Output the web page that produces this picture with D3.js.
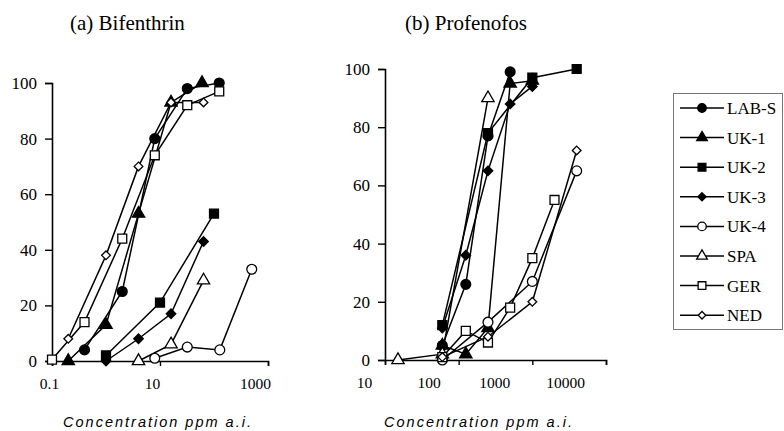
<!DOCTYPE html>
<html><head><meta charset="utf-8">
<script src="https://cdn.jsdelivr.net/npm/d3@7"></script>
<style>body{margin:0;background:#fff}</style>
</head><body>
<svg id="c" width="784" height="431"></svg>
<script>
// ---------- data ----------
const seriesNames = ["LAB-S","UK-1","UK-2","UK-3","UK-4","SPA","GER","NED"];
const panelTitles = ["(a) Bifenthrin","(b) Profenofos"];
const axisTitle = "Concentration ppm a.i.";
const yTicks = [0,20,40,60,80,100];
const xTicksA = [0.1,10,1000];
const xTicksB = [10,100,1000,10000];

// (a) Bifenthrin: [concentration, % mortality]
const bifLABS = [[0.4,4],[2,25],[8,80],[32,98],[125,100]];
const bifUK1  = [[0.2,0],[1,13],[4,53],[16,93],[60,100]];
const bifUK2  = [[1,2],[10,21],[100,53]];
const bifUK3  = [[1,0],[4,8],[16,17],[64,43]];
const bifUK4  = [[8,1],[32,5],[128,4],[500,33]];
const bifSPA  = [[4,0],[16,6],[64,29]];
const bifGER  = [[0.1,0.5],[0.4,14],[2,44],[8,74],[32,92],[125,97]];
const bifNED  = [[0.2,8],[1,38],[4,70],[16,93],[64,93]];

// (b) Profenofos
const proLABS = [[60,5],[125,26],[250,77],[500,99]];
const proUK1  = [[60,5],[125,2],[250,11],[500,95],[1000,96]];
const proUK2  = [[60,12],[250,78],[1000,97],[4000,100]];
const proUK3  = [[60,11],[125,36],[250,65],[500,88],[1000,94]];
const proUK4  = [[60,0],[250,13],[1000,27],[4000,65]];
const proSPA  = [[15,0],[60,2],[250,90]];
const proGER  = [[60,1],[125,10],[250,6],[500,18],[1000,35],[2000,55]];
const proNED  = [[60,1],[250,8],[1000,20],[4000,72]];

const dataA = [bifLABS,bifUK1,bifUK2,bifUK3,bifUK4,bifSPA,bifGER,bifNED];
const dataB = [proLABS,proUK1,proUK2,proUK3,proUK4,proSPA,proGER,proNED];

// ---------- styles ----------
const shapes = [d3.symbolCircle,d3.symbolTriangle,d3.symbolSquare,d3.symbolDiamond2,
                d3.symbolCircle,d3.symbolTriangle,d3.symbolSquare,d3.symbolDiamond2];
const filled = [true,true,true,true,false,false,false,false];
const sizes  = [76,66,80,58,76,66,80,48];
// horizontal nudges of x tick labels (they sit left of their ticks in the original)
const labelShiftA = [-3,-8,-13];
const labelShiftB = [-21,-30,-38,-41];

const svg = d3.select("#c");
const serif = "'Liberation Serif','Times New Roman',serif";

function panel(cfg){
  const x = d3.scaleLog().domain(cfg.xdom).range(cfg.xr);
  const y = d3.scaleLinear().domain([0,100]).range(cfg.yr);
  const g = svg.append("g");
  const yAx = g.append("g").attr("transform",`translate(${cfg.xr[0]},0)`)
    .call(d3.axisLeft(y).tickValues(yTicks).tickSize(7).tickPadding(8).tickFormat(d3.format("d")));
  const xAx = g.append("g").attr("transform",`translate(0,${cfg.yr[0]})`)
    .call(d3.axisBottom(x).tickValues(cfg.xticks).tickSize(5).tickPadding(12).tickFormat(d=>String(d)));
  [yAx,xAx].forEach(a=>{
    a.select(".domain").attr("stroke","#000").attr("stroke-width",1.6);
    a.selectAll(".tick line").attr("stroke","#000").attr("stroke-width",1.4);
    a.selectAll("text").attr("font-family",serif).attr("fill","#000");
  });
  yAx.selectAll("text").attr("font-size",17);
  xAx.selectAll("text").attr("font-size",15.5).attr("dx",(d,i)=>cfg.shift[i]);

  const line = d3.line().x(d=>x(d[0])).y(d=>y(d[1]));
  cfg.data.forEach(s=>{
    g.append("path").datum(s).attr("d",line).attr("fill","none")
      .attr("stroke","#000").attr("stroke-width",1.5);
  });
  cfg.data.forEach((s,i)=>{
    g.selectAll(null).data(s).enter().append("path")
      .attr("d",d3.symbol().type(shapes[i]).size(sizes[i]))
      .attr("transform",d=>`translate(${x(d[0])},${y(d[1])})`)
      .attr("fill",filled[i]?"#000":"#fff")
      .attr("stroke","#000").attr("stroke-width",1.3);
  });
  g.append("text").attr("x",cfg.tx).attr("y",30).text(cfg.title)
    .attr("font-family",serif).attr("font-size",21).attr("fill","#000");
  g.append("text").attr("x",cfg.ax).attr("y",427).text(axisTitle)
    .attr("font-family","'Liberation Sans',Arial,sans-serif").attr("font-style","italic")
    .attr("font-size",14.5).attr("letter-spacing",2).attr("text-anchor","middle").attr("fill","#000");
}

panel({xdom:[0.1,1000],xr:[52,268],yr:[361,83],xticks:xTicksA,shift:labelShiftA,data:dataA,title:panelTitles[0],tx:70,ax:158});
panel({xdom:[10,10000],xr:[385,606],yr:[360,69],xticks:xTicksB,shift:labelShiftB,data:dataB,title:panelTitles[1],tx:405,ax:479});

// ---------- legend ----------
const lg = svg.append("g");
lg.append("rect").attr("x",673.5).attr("y",93.5).attr("width",109).attr("height",236)
  .attr("fill","#fff").attr("stroke","#777").attr("stroke-width",1);
seriesNames.forEach((n,i)=>{
  const yy = 108 + i*29.6;
  lg.append("line").attr("x1",680).attr("x2",724).attr("y1",yy).attr("y2",yy)
    .attr("stroke","#000").attr("stroke-width",1.5);
  lg.append("path").attr("d",d3.symbol().type(shapes[i]).size(sizes[i]*0.75))
    .attr("transform",`translate(702,${yy})`)
    .attr("fill",filled[i]?"#000":"#fff").attr("stroke","#000").attr("stroke-width",1.3);
  lg.append("text").attr("x",727).attr("y",yy).attr("dy","0.35em").text(n)
    .attr("font-family",serif).attr("font-size",17).attr("fill","#000");
});
</script>
</body></html>
